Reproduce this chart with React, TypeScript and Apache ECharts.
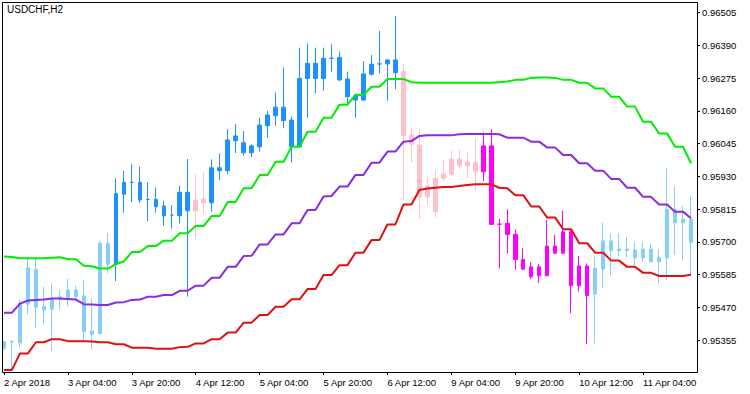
import React, { useEffect, useRef } from 'react';
import * as echarts from 'echarts';

const FONT = '"Liberation Sans", Arial, sans-serif';

const title = 'USDCHF,H2';

const categories = [
  '2018.04.02 12:00', '2018.04.02 14:00', '2018.04.02 16:00', '2018.04.02 18:00', '2018.04.02 20:00', '2018.04.02 22:00',
  '2018.04.03 00:00', '2018.04.03 02:00', '2018.04.03 04:00', '2018.04.03 06:00', '2018.04.03 08:00', '2018.04.03 10:00',
  '2018.04.03 12:00', '2018.04.03 14:00', '2018.04.03 16:00', '2018.04.03 18:00', '2018.04.03 20:00', '2018.04.03 22:00',
  '2018.04.04 00:00', '2018.04.04 02:00', '2018.04.04 04:00', '2018.04.04 06:00', '2018.04.04 08:00', '2018.04.04 10:00',
  '2018.04.04 12:00', '2018.04.04 14:00', '2018.04.04 16:00', '2018.04.04 18:00', '2018.04.04 20:00', '2018.04.04 22:00',
  '2018.04.05 00:00', '2018.04.05 02:00', '2018.04.05 04:00', '2018.04.05 06:00', '2018.04.05 08:00', '2018.04.05 10:00',
  '2018.04.05 12:00', '2018.04.05 14:00', '2018.04.05 16:00', '2018.04.05 18:00', '2018.04.05 20:00', '2018.04.05 22:00',
  '2018.04.06 00:00', '2018.04.06 02:00', '2018.04.06 04:00', '2018.04.06 06:00', '2018.04.06 08:00', '2018.04.06 10:00',
  '2018.04.06 12:00', '2018.04.06 14:00', '2018.04.06 16:00', '2018.04.06 18:00', '2018.04.06 20:00', '2018.04.06 22:00',
  '2018.04.09 00:00', '2018.04.09 02:00', '2018.04.09 04:00', '2018.04.09 06:00', '2018.04.09 08:00', '2018.04.09 10:00',
  '2018.04.09 12:00', '2018.04.09 14:00', '2018.04.09 16:00', '2018.04.09 18:00', '2018.04.09 20:00', '2018.04.09 22:00',
  '2018.04.10 00:00', '2018.04.10 02:00', '2018.04.10 04:00', '2018.04.10 06:00', '2018.04.10 08:00', '2018.04.10 10:00',
  '2018.04.10 12:00', '2018.04.10 14:00', '2018.04.10 16:00', '2018.04.10 18:00', '2018.04.10 20:00', '2018.04.10 22:00',
  '2018.04.11 00:00', '2018.04.11 02:00', '2018.04.11 04:00', '2018.04.11 06:00', '2018.04.11 08:00', '2018.04.11 10:00',
  '2018.04.11 12:00', '2018.04.11 14:00', '2018.04.11 16:00',
];

const timeTickLabels = [
  '2 Apr 2018', '3 Apr 04:00', '3 Apr 20:00', '4 Apr 12:00', '5 Apr 04:00', '5 Apr 20:00',
  '6 Apr 12:00', '9 Apr 04:00', '9 Apr 20:00', '10 Apr 12:00', '11 Apr 04:00',
];

const priceTicks = [0.95355, 0.9547, 0.95585, 0.957, 0.95815, 0.9593, 0.96045, 0.9616, 0.96275, 0.9639, 0.96505];

const opens = [
  0.95325, 0.95349, 0.95345, 0.95481, 0.95604, 0.95472, 0.95463, 0.95497, 0.95505, 0.95531,
  0.9551, 0.95387, 0.95378, 0.95695, 0.95621, 0.95867, 0.95909, 0.95909, 0.95849, 0.95849,
  0.95826, 0.95794, 0.95792, 0.95874, 0.95809, 0.9585, 0.95837, 0.9596, 0.9595, 0.96055,
  0.96048, 0.96013, 0.96034, 0.96108, 0.96143, 0.96173, 0.96128, 0.96034, 0.96274, 0.96327,
  0.96274, 0.96345, 0.96348, 0.96272, 0.96213, 0.96198, 0.96289, 0.96325, 0.96325, 0.96339,
  0.96298, 0.96075, 0.9604, 0.95858, 0.95806, 0.95923, 0.95937, 0.95991, 0.95967, 0.95979,
  0.95946, 0.96037, 0.95762, 0.95765, 0.95726, 0.95638, 0.95612, 0.95581, 0.95581, 0.95685,
  0.9566, 0.95735, 0.95546, 0.95615, 0.95516, 0.95604, 0.95703, 0.95669, 0.95675, 0.95671,
  0.95644, 0.95674, 0.9563, 0.95644, 0.95814, 0.95767, 0.95779,
];
const highs = [
  0.95351, 0.95355, 0.95496, 0.95644, 0.95644, 0.95542, 0.95554, 0.95531, 0.95569, 0.95545,
  0.95566, 0.95501, 0.95704, 0.9573, 0.95923, 0.95949, 0.95973, 0.95964, 0.95909, 0.95891,
  0.95844, 0.95829, 0.95897, 0.95991, 0.95938, 0.95944, 0.9599, 0.96011, 0.96096, 0.96114,
  0.96089, 0.96043, 0.96136, 0.9616, 0.96225, 0.96312, 0.9614, 0.96382, 0.96397, 0.96382,
  0.96382, 0.96394, 0.96368, 0.96298, 0.96222, 0.96335, 0.96356, 0.96441, 0.96341, 0.96493,
  0.96327, 0.96099, 0.96093, 0.95927, 0.95952, 0.95987, 0.9602, 0.96023, 0.96016, 0.96064,
  0.96083, 0.96095, 0.9578, 0.95814, 0.95744, 0.95677, 0.95628, 0.95622, 0.95777, 0.95724,
  0.95809, 0.95744, 0.9565, 0.95624, 0.95648, 0.95766, 0.9573, 0.9573, 0.95717, 0.95699,
  0.95699, 0.95692, 0.95674, 0.95958, 0.95896, 0.95826, 0.9586,
];
const lows = [
  0.9532, 0.9525, 0.9533, 0.95445, 0.95396, 0.9541, 0.95317, 0.9546, 0.95475, 0.95496,
  0.95347, 0.95323, 0.95375, 0.95589, 0.95562, 0.95802, 0.95839, 0.95837, 0.95773, 0.95802,
  0.95757, 0.95747, 0.95765, 0.95507, 0.9571, 0.95798, 0.95806, 0.95917, 0.95938, 0.96012,
  0.96003, 0.95997, 0.96017, 0.96066, 0.96108, 0.96099, 0.95979, 0.96031, 0.96136, 0.96222,
  0.96231, 0.96298, 0.96265, 0.96181, 0.96136, 0.96196, 0.96284, 0.96292, 0.96196, 0.96236,
  0.95847, 0.95979, 0.9578, 0.95829, 0.95786, 0.95914, 0.95932, 0.95958, 0.95924, 0.95882,
  0.95914, 0.95759, 0.95607, 0.9566, 0.95603, 0.95601, 0.95569, 0.95555, 0.95579, 0.95658,
  0.95658, 0.95449, 0.95525, 0.9534, 0.95343, 0.95536, 0.95581, 0.95647, 0.95645, 0.9561,
  0.9563, 0.95627, 0.95554, 0.95566, 0.95654, 0.95636, 0.95583,
];
const closes = [
  0.95349, 0.95349, 0.95484, 0.95609, 0.9547, 0.9546, 0.95499, 0.95507, 0.95531, 0.95507,
  0.95384, 0.95375, 0.95695, 0.95621, 0.9587, 0.95909, 0.95909, 0.95847, 0.95849, 0.95823,
  0.95791, 0.95794, 0.95874, 0.95809, 0.95847, 0.95837, 0.9596, 0.9595, 0.96058, 0.96072,
  0.96013, 0.96037, 0.9611, 0.96146, 0.96173, 0.96126, 0.96034, 0.96274, 0.96327, 0.96274,
  0.96345, 0.96345, 0.96269, 0.9621, 0.96198, 0.9629, 0.96324, 0.96325, 0.96339, 0.96294,
  0.96073, 0.96043, 0.95858, 0.95896, 0.95923, 0.95938, 0.95991, 0.95967, 0.95981, 0.95946,
  0.96037, 0.95761, 0.95762, 0.95726, 0.95638, 0.95604, 0.95577, 0.95612, 0.95685, 0.9566,
  0.95735, 0.95546, 0.95615, 0.95511, 0.95607, 0.95703, 0.95669, 0.95675, 0.95669, 0.95644,
  0.95674, 0.9563, 0.95646, 0.95814, 0.95767, 0.95779, 0.95698,
];

// trend state of each bar: 0 = weak up, 1 = strong up, 2 = weak down, 3 = strong down
const barState = [
  0, 0, 0, 0, 0, 0, 0, 0, 0, 0, 0, 0, 0, 0,
  1, 1, 1, 1, 1, 1, 1, 1, 1, 1,
  2, 2,
  1, 1, 1, 1, 1, 1, 1, 1, 1, 1, 1, 1, 1, 1, 1, 1, 1, 1, 1, 1, 1, 1, 1, 1,
  2, 2, 2, 2, 2, 2, 2, 2, 2, 2,
  3, 3, 3, 3, 3, 3, 3, 3, 3, 3, 3, 3, 3, 3,
  0, 0, 0, 0, 0, 0, 0, 0, 0, 0, 0, 0, 0,
];

const upperBand = [
  0.95648, 0.95647, 0.95642, 0.95642, 0.95642, 0.95642, 0.95644, 0.95646, 0.95639, 0.95639,
  0.95616, 0.95614, 0.95606, 0.95606, 0.95622, 0.95631, 0.95664, 0.95664, 0.95685, 0.95685,
  0.95704, 0.95704, 0.9573, 0.9573, 0.95756, 0.95756, 0.95791, 0.95791, 0.9584, 0.9584,
  0.95888, 0.95888, 0.95935, 0.95935, 0.95981, 0.95981, 0.96034, 0.96034, 0.96087, 0.96087,
  0.96136, 0.96136, 0.96182, 0.96182, 0.96216, 0.96216, 0.96245, 0.96245, 0.96272, 0.96272,
  0.96272, 0.96261, 0.96259, 0.96259, 0.96259, 0.96259, 0.96259, 0.96259, 0.96259, 0.96259,
  0.96259, 0.96259, 0.96261, 0.96263, 0.96269, 0.96269, 0.96276, 0.96277, 0.96277, 0.96276,
  0.96269, 0.96269, 0.96259, 0.96259, 0.96239, 0.96239, 0.9621, 0.9621, 0.96175, 0.96175,
  0.96122, 0.96122, 0.96081, 0.96081, 0.96034, 0.96034, 0.95976,
];
const middleBand = [
  0.95451, 0.95451, 0.95483, 0.95494, 0.95496, 0.95497, 0.95501, 0.95501, 0.95499, 0.95497,
  0.95481, 0.9548, 0.95478, 0.95478, 0.95487, 0.95488, 0.95496, 0.95497, 0.95507, 0.95507,
  0.95513, 0.95513, 0.95528, 0.95528, 0.95546, 0.95546, 0.95574, 0.95574, 0.95612, 0.95612,
  0.9565, 0.95651, 0.95691, 0.95691, 0.95726, 0.95726, 0.95765, 0.95765, 0.95812, 0.95812,
  0.95859, 0.95861, 0.95894, 0.95894, 0.95935, 0.95935, 0.95978, 0.95978, 0.96017, 0.96017,
  0.96052, 0.96054, 0.96072, 0.96074, 0.96074, 0.96074, 0.96074, 0.96078, 0.96079, 0.96079,
  0.96079, 0.96079, 0.96078, 0.96066, 0.96066, 0.96066, 0.96052, 0.96052, 0.96031, 0.96031,
  0.96005, 0.96005, 0.95976, 0.95976, 0.9595, 0.9595, 0.95921, 0.95921, 0.9589, 0.9589,
  0.95858, 0.95858, 0.95831, 0.95831, 0.95806, 0.95806, 0.95783,
];
const lowerBand = [
  0.9525, 0.9525, 0.95308, 0.95308, 0.95347, 0.95347, 0.95358, 0.95358, 0.95351, 0.95351,
  0.95351, 0.9535, 0.95347, 0.95347, 0.9534, 0.9534, 0.95328, 0.95328, 0.95328, 0.95324,
  0.95324, 0.95324, 0.9533, 0.95331, 0.95343, 0.95343, 0.95358, 0.95358, 0.95381, 0.95381,
  0.95416, 0.95416, 0.95443, 0.95443, 0.95472, 0.95472, 0.95498, 0.95498, 0.95534, 0.95534,
  0.95583, 0.95583, 0.95618, 0.95618, 0.95662, 0.95662, 0.95706, 0.95706, 0.95761, 0.95761,
  0.95831, 0.95831, 0.95882, 0.95887, 0.9589, 0.95893, 0.95893, 0.95896, 0.959, 0.95902,
  0.95902, 0.95902, 0.9589, 0.95888, 0.95864, 0.95864, 0.95824, 0.95824, 0.95785, 0.95785,
  0.95744, 0.95744, 0.95695, 0.95695, 0.95662, 0.95662, 0.95634, 0.95634, 0.95612, 0.95612,
  0.95591, 0.95591, 0.9558, 0.9558, 0.9558, 0.9558, 0.95584,
];

const Y_MIN = 0.952426;
const Y_MAX = 0.965426;

const STATE_COLORS = ['#87cefa', '#1e90ff', '#ffc0cb', '#ff00ff'];

export default function App() {
  const ref = useRef<HTMLDivElement>(null);

  useEffect(() => {
    document.body.style.margin = '0';
    if (!ref.current) return;
    const chart = echarts.init(ref.current, null, { renderer: 'svg', width: 750, height: 394 });

    const candleData = opens.map((o, i) => {
      const c = STATE_COLORS[barState[i]];
      return {
        value: [o, closes[i], lows[i], highs[i]],
        itemStyle: { color: c, color0: c, borderColor: c, borderColor0: c, borderColorDoji: c },
      };
    });

    const option: any = {
      animation: false,
      backgroundColor: '#ffffff',
      textStyle: { fontFamily: FONT },
      grid: { left: -1, top: 2, width: 696, height: 370, containLabel: false },
      xAxis: {
        type: 'category',
        data: categories,
        boundaryGap: true,
        axisLine: { show: false },
        axisTick: { show: true, alignWithLabel: true, interval: 7, length: 3, lineStyle: { color: '#000', width: 1 } },
        axisLabel: {
          interval: 7,
          align: 'left',
          margin: 5,
          color: '#000',
          fontSize: 9.5,
          fontFamily: FONT,
          formatter: (_v: string, idx: number) => timeTickLabels[Math.round(idx / 8)] ?? '',
        },
        splitLine: { show: false },
      },
      yAxis: {
        type: 'value',
        position: 'right',
        offset: 2,
        min: Y_MIN,
        max: Y_MAX,
        scale: true,
        axisLine: { show: false },
        axisTick: { show: true, length: 3, customValues: priceTicks, lineStyle: { color: '#000', width: 1 } },
        axisLabel: {
          customValues: priceTicks,
          margin: 5,
          color: '#000',
          fontSize: 9.5,
          fontFamily: FONT,
          formatter: (v: number) => v.toFixed(5),
        },
        splitLine: { show: false },
      },
      graphic: [
        {
          type: 'rect',
          silent: true,
          z: 100,
          shape: { x: 2.5, y: 2.5, width: 695, height: 370 },
          style: { fill: 'none', stroke: '#000', lineWidth: 1 },
        },
        {
          type: 'text',
          silent: true,
          z: 100,
          x: 7,
          y: 4,
          style: { text: title, fontSize: 10, fontFamily: FONT, fill: '#000', verticalAlign: 'top' },
        },
      ],
      series: [
        {
          type: 'candlestick',
          name: 'USDCHF',
          data: candleData,
          barWidth: 4,
          itemStyle: { borderWidth: 1 },
          z: 2,
        },
        {
          type: 'line',
          name: 'Upper',
          data: upperBand,
          symbol: 'none',
          lineStyle: { color: '#00ee00', width: 2 },
          z: 3,
        },
        {
          type: 'line',
          name: 'Middle',
          data: middleBand,
          symbol: 'none',
          lineStyle: { color: '#8a2be2', width: 2 },
          z: 3,
        },
        {
          type: 'line',
          name: 'Lower',
          data: lowerBand,
          symbol: 'none',
          lineStyle: { color: '#e01010', width: 2 },
          z: 3,
        },
      ],
    };

    chart.setOption(option);
    return () => chart.dispose();
  }, []);

  return <div ref={ref} style={{ width: 750, height: 394 }} />;
}
